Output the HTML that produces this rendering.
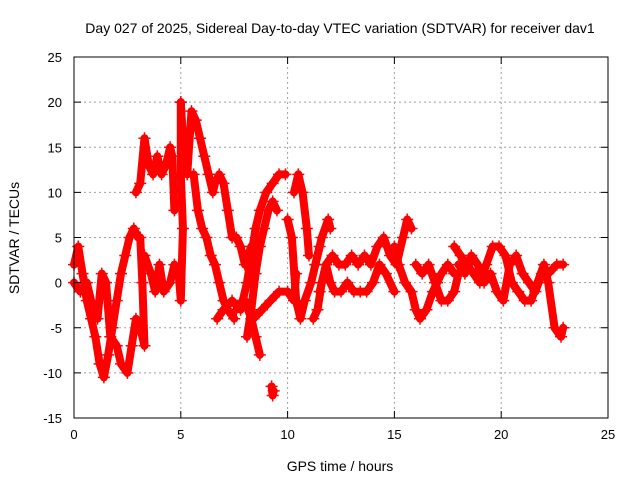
<!DOCTYPE html>
<html><head><meta charset="utf-8"><style>
body{margin:0;background:#fff;}
svg{display:block;font-family:"Liberation Sans",sans-serif;}
</style></head><body>
<svg id="chart" width="640" height="480">
<text x="340" y="33" font-size="14" text-anchor="middle">Day 027 of 2025, Sidereal Day-to-day VTEC variation (SDTVAR) for receiver dav1</text>
<g id="grid"></g><g id="marks"></g><g id="axes"></g>
<text x="340" y="471" font-size="14" text-anchor="middle">GPS time / hours</text>
<text transform="translate(19,238) rotate(-90)" font-size="14" text-anchor="middle">SDTVAR / TECUs</text>
</svg>
<script>
const xTicks=[0,5,10,15,20,25];
const yTicks=[-15,-10,-5,0,5,10,15,20,25];
const trA=[[0,2],[0.2,4],[0.4,1],[0.6,-2],[0.8,-4],[1.0,-6],[1.2,-9],[1.4,-10.5],[1.6,-8],[1.8,-5],[2.0,-2],[2.2,1],[2.4,3],[2.6,5],[2.8,6],[3.0,5]];
const trB=[[0,0],[0.3,-1],[0.6,0],[0.9,-3],[1.1,-4],[1.3,1],[1.5,0],[1.7,-6],[2.0,-7],[2.2,-9],[2.5,-10],[2.7,-7],[2.9,-4],[3.1,-5],[3.3,-7],[3.2,0],[3.1,5]];
const trC=[[2.9,10],[3.1,11],[3.3,16],[3.5,13],[3.7,12],[3.9,14],[4.1,12],[4.3,13],[4.5,15],[4.6,14],[4.7,8]];
const trD=[[3.3,3],[3.6,1],[3.8,-1],[4.0,2],[4.2,-1],[4.5,0],[4.7,2],[4.9,1],[5.0,-2],[5.1,6],[5.0,12],[5.0,20]];
const trE=[[5.0,20],[5.1,16],[5.3,12],[5.5,19],[5.7,18],[5.9,16],[6.1,14],[6.3,12],[6.5,10],[6.6,11],[6.8,12],[7.0,11],[7.2,8],[7.4,5],[7.6,5],[7.8,4],[8.0,2],[8.3,4]];
const trF=[[5.6,12],[5.8,8],[6.0,6],[6.2,5],[6.4,3],[6.6,2],[6.8,0],[7.0,-2],[7.2,-3],[7.5,-4]];
const trG=[[6.7,-4],[7.0,-3],[7.4,-2],[7.8,-3],[8.0,-2],[8.3,-4],[8.5,-6],[8.7,-8]];
const trH=[[7.6,-3],[7.9,-2],[8.1,0],[8.3,3],[8.5,6],[8.7,8],[9.0,10],[9.3,11],[9.6,12],[9.9,12]];
const trI=[[8.1,-6],[8.3,-3],[8.5,1],[8.7,4],[8.9,6],[9.1,8],[9.3,9],[9.5,8]];
const trJ=[[8.4,-4],[8.8,-3],[9.2,-2],[9.6,-1],[10.0,-1],[10.3,-2],[10.4,1]];
const trOut=[[9.25,-11.5],[9.3,-12.5],[9.35,-12]];
const trK=[[10.0,7],[10.2,5],[10.4,-2],[10.6,-4],[10.8,-2],[11.1,0],[11.3,2],[11.5,4]];
const trL=[[10.3,10],[10.5,12],[10.7,10],[10.9,6],[11.0,3]];
const trM=[[11.2,-4],[11.4,-3],[11.6,0],[11.8,2],[12.0,0],[12.2,-1],[12.5,-1],[12.8,0],[13.1,-1],[13.4,-1],[13.7,-1],[14.0,0],[14.3,2],[14.6,1],[15.0,-1]];
const trN=[[11.3,2],[11.6,5],[11.9,7],[12.0,6]];
const trO=[[11.5,-1],[11.8,2],[12.1,3],[12.4,2],[12.7,2],[13.0,3],[13.3,2],[13.6,3],[13.9,2],[14.2,4],[14.5,5],[14.8,3],[15.1,2],[15.4,5],[15.6,7],[15.8,6]];
const trP=[[15.0,4],[15.2,2],[15.5,0],[15.8,-1],[16.0,-3],[16.2,-4],[16.5,-3],[16.8,-1],[17.0,0],[17.2,1],[17.5,2],[17.8,1]];
const trQ=[[16.0,2],[16.3,1],[16.6,2],[16.9,0],[17.2,-2],[17.5,-2],[17.8,-1],[18.0,1],[18.3,2]];
const trR=[[17.8,4],[18.1,3],[18.4,2],[18.7,1],[19.0,0],[19.3,2],[19.6,4],[19.9,4],[20.2,3],[20.5,0],[20.8,-1],[21.1,-2],[21.4,-2],[21.7,0],[22.0,2],[22.2,0],[22.5,-5],[22.8,-6],[22.9,-5]];
const trS=[[18.0,2],[18.3,1],[18.6,3],[18.9,2],[19.2,0],[19.5,1],[19.8,-1],[20.1,-2],[20.4,2],[20.7,3],[21.0,1],[21.3,0],[21.6,-1],[21.9,1],[22.2,1],[22.6,2],[22.9,2]];
const traces=[trA,trB,trC,trD,trE,trF,trG,trH,trI,trJ,trOut,trK,trL,trM,trN,trO,trP,trQ,trR,trS];

const L=74,R=608,T=57,B=418;
const xs=v=>L+(v-0)/25*(R-L);
const ys=v=>B-(v+15)/40*(B-T);
const NS="http://www.w3.org/2000/svg";
function mk(tag,at,parent){const e=document.createElementNS(NS,tag);for(const k in at)e.setAttribute(k,at[k]);parent.appendChild(e);return e;}
const grid=document.getElementById('grid'),axes=document.getElementById('axes'),marks=document.getElementById('marks');
xTicks.forEach(t=>{
 if(t>0&&t<25){const g=mk('line',{x1:xs(t),x2:xs(t),y1:T,y2:B,stroke:'#a0a0a0','stroke-dasharray':'2,3'},grid);
 
 }
 const tk=mk('line',{x1:xs(t),x2:xs(t),y1:B,y2:B-7,stroke:'#000'},axes);
 
 
 mk('line',{x1:xs(t),x2:xs(t),y1:T,y2:T+7,stroke:'#000'},axes);
 const tx=mk('text',{x:xs(t),y:B+21,'font-size':13,'text-anchor':'middle'},axes);tx.textContent=t;
 
 
});
yTicks.forEach(t=>{
 if(t>-15&&t<25){const g=mk('line',{x1:L,x2:R,y1:ys(t),y2:ys(t),stroke:'#a0a0a0','stroke-dasharray':'2,3'},grid);
 
 }
 const tk=mk('line',{x1:L,x2:L+7,y1:ys(t),y2:ys(t),stroke:'#000'},axes);
 
 
 mk('line',{x1:R,x2:R-7,y1:ys(t),y2:ys(t),stroke:'#000'},axes);
 const tx=mk('text',{x:L-12,y:ys(t)+5,'font-size':13,'text-anchor':'end'},axes);tx.textContent=t;
 
 
});
const fr=mk('rect',{x:L,y:T,width:R-L,height:B-T,fill:'none',stroke:'#000'},axes);


traces.forEach(tr=>{
 const pl=mk('polyline',{points:tr.map(p=>xs(p[0])+','+ys(p[1])).join(' '),fill:'none',stroke:'#f00','stroke-width':8,'stroke-linejoin':'round','stroke-linecap':'round'},marks);
 
 
 tr.forEach(p=>{
  const x=xs(p[0]),y=ys(p[1]);
  const m=mk('path',{d:`M${x-6},${y}H${x+6}M${x},${y-6}V${y+6}`,stroke:'#f00','stroke-width':1.5},marks);
  
  
 });
});
</script>
</body></html>
